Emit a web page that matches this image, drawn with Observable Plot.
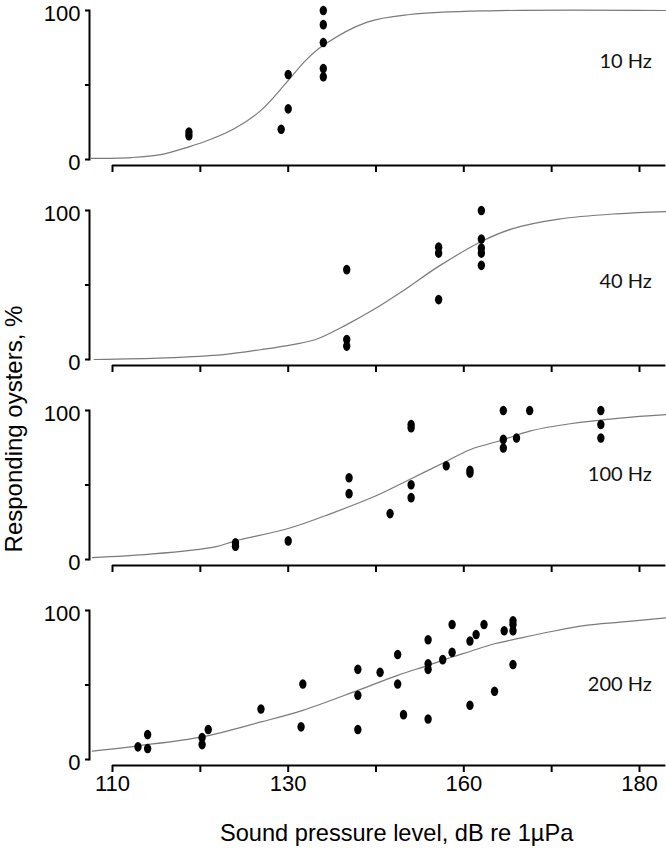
<!DOCTYPE html>
<html><head><meta charset="utf-8">
<script src="https://cdn.jsdelivr.net/npm/d3@7"></script>
<script src="https://cdn.jsdelivr.net/npm/@observablehq/plot@0.6"></script>
<style>
body{margin:0;background:#fff;}
#wrap{position:relative;width:666px;height:850px;overflow:hidden;font-family:"Liberation Sans",Arial,sans-serif;color:#000;}
.panel{position:absolute;left:0;}
#ytitle{position:absolute;left:-186px;top:417px;width:400px;height:24px;line-height:24px;text-align:center;font-size:24px;white-space:nowrap;transform:rotate(-90deg);transform-origin:200px 12px;}
#xtitle{position:absolute;left:220px;top:821px;font-size:23.6px;line-height:24px;white-space:nowrap;}
</style></head>
<body><div id="wrap">
<div id="ytitle">Responding oysters, %</div>
<div id="xtitle">Sound pressure level, dB re 1µPa</div>
</div>
<script>
// tick positions and labels (x axis, sound pressure level)
const tickValues = [110, 120, 130, 145, 160, 170, 180];
const tickLabels = ["110", "", "130", "", "160", "", "180"];
const yTicks = [0, 50, 100];
const yLabels = [0, 100];
const panelLabels = ["10 Hz", "40 Hz", "100 Hz", "200 Hz"];
const labelY = [66, 52, 57, 50];

// 10 Hz
const spl10  = [118.7, 118.7, 129.2, 130, 130, 136, 136, 136, 136, 136];
const resp10 = [18.5, 16, 20.3, 57, 34, 100, 90.5, 78.5, 61, 55.5];
const curveSpl10  = [107.5, 112.1, 115.5, 118.7, 121.2, 123.9, 126.9, 129.7, 133.0, 136.0, 143.5, 150.8, 163.0, 183];
const curveResp10 = [0.7, 1.3, 3.3, 8.5, 13.6, 20.8, 33, 50.9, 66.5, 76.6, 92.2, 97.3, 99.8, 100];

// 40 Hz
const spl40  = [140, 140, 140, 155.7, 155.7, 155.7, 162, 162, 162, 162, 162];
const resp40 = [60.3, 13.4, 9, 75.4, 71.4, 40.2, 100, 80.8, 74.8, 71.4, 63.2];
const curveSpl40  = [107.9, 116.0, 122.6, 127.0, 130.8, 134.7, 140.0, 144.6, 149.5, 155.7, 162.0, 165.5, 170.8, 177.4, 183];
const curveResp40 = [0, 1.1, 3.3, 6.7, 10, 13.4, 23.4, 33.5, 45.8, 62.5, 79.2, 87.7, 94.2, 97.8, 99.3];

// 100 Hz
const spl100  = [124, 124, 130, 140.4, 140.4, 147.4, 151, 151, 151, 151, 157, 160.7, 160.7, 164.5, 164.5, 164.5, 166, 167.5, 175.6, 175.6, 175.6];
const resp100 = [11.2, 8.9, 12.5, 54.9, 44.2, 30.8, 90.6, 88.4, 50.2, 41.5, 62.9, 59.8, 58, 100, 80.6, 74.8, 81.5, 100, 100, 90.6, 81.5];
const curveSpl100  = [107.7, 114.3, 121.7, 124.0, 130.0, 137.3, 145.2, 151.0, 157.0, 160.7, 164.5, 167.5, 172.1, 177.8, 183];
const curveResp100 = [1.3, 3.6, 8.5, 12.5, 20.8, 30.8, 43.1, 54.2, 65.8, 73.7, 80.4, 86.2, 91.1, 94.9, 97.2];

// 200 Hz
const spl200  = [112.9, 114, 114, 120.2, 120.2, 120.9, 126.9, 132.2, 132.5, 141.9, 141.9, 141.9, 145.7, 148.7, 148.7, 149.7, 153.9, 153.9, 153.9, 153.9, 156.4, 158, 158, 160.7, 160.7, 161.4, 162.3, 163.5, 164.6, 165.6, 165.6, 165.6, 165.6];
const resp200 = [8.5, 16.7, 7.4, 14.7, 10, 20.1, 33.9, 21.9, 50.7, 60.5, 43.1, 20.1, 58.5, 70.5, 50.7, 30.1, 80.4, 64.3, 60.5, 27.2, 67, 90.6, 71.9, 79.5, 36.4, 83.9, 90.6, 45.8, 86.4, 93.1, 90.6, 86.4, 63.8];
const curveSpl200  = [107.7, 112.9, 120.2, 126.9, 132.5, 141.9, 148.7, 153.9, 158.0, 160.7, 163.5, 165.6, 170.0, 173.9, 177.8, 183];
const curveResp200 = [5.6, 9.2, 15.2, 25.2, 33, 46.4, 56.5, 63.2, 68.8, 72.5, 77.7, 80.4, 85.9, 90, 92.2, 95];

const panels = [
  {spl: spl10, resp: resp10, cs: curveSpl10, cr: curveResp10},
  {spl: spl40, resp: resp40, cs: curveSpl40, cr: curveResp40},
  {spl: spl100, resp: resp100, cs: curveSpl100, cr: curveResp100},
  {spl: spl200, resp: resp200, cs: curveSpl200, cr: curveResp200}
];

const ellipse = {
  draw(ctx) {
    const rx = 3.7, ry = 4.8, k = 0.5523;
    ctx.moveTo(rx, 0);
    ctx.bezierCurveTo(rx, ry * k, rx * k, ry, 0, ry);
    ctx.bezierCurveTo(-rx * k, ry, -rx, ry * k, -rx, 0);
    ctx.bezierCurveTo(-rx, -ry * k, -rx * k, -ry, 0, -ry);
    ctx.bezierCurveTo(rx * k, -ry, rx, -ry * k, rx, 0);
    ctx.closePath();
  }
};

const wrap = document.getElementById("wrap");
panels.forEach((p, i) => {
  const pts = p.spl.map((s, j) => ({spl: s, resp: p.resp[j]}));
  const curve = p.cs.map((s, j) => ({spl: s, resp: p.cr[j]}));
  const last = i === panels.length - 1;
  const chart = Plot.plot({
    width: 666,
    height: 200,
    marginTop: 10,
    marginBottom: 41,
    marginLeft: 89,
    marginRight: 0,
    style: {fontFamily: "'Liberation Sans', Arial, sans-serif", background: "transparent", overflow: "visible"},
    x: {type: "linear", domain: [110, 130, 160, 180], range: [112, 287.7, 463.3, 639]},
    y: {domain: [0, 100]},
    marks: [
      Plot.frame({anchor: "left", stroke: "#000", strokeWidth: 2}),
      Plot.axisY({ticks: yTicks, tickSize: 4, strokeWidth: 2, tickFormat: () => "", label: null}),
      Plot.axisY({ticks: yLabels, tickSize: 0, tickPadding: 9, dy: 3, fontSize: 22, fill: "#000",
                  tickFormat: d => String(d), label: null}),
      Plot.ruleY([0], {x1: 110, x2: 183, dy: 6, stroke: "#000", strokeWidth: 2}),
      Plot.axisX({ticks: tickValues, tickSize: 7, tickPadding: 3, dy: 6, strokeWidth: 2, fontSize: 22, fill: "#000",
                  tickFormat: d => last ? tickLabels[tickValues.indexOf(d)] : "", label: null}),
      Plot.line(curve, {x: "spl", y: "resp", stroke: "#7a7a7a", strokeWidth: 1.2, curve: "catmull-rom"}),
      Plot.dot(pts, {x: "spl", y: "resp", symbol: ellipse, fill: "#000", stroke: "none"}),
      Plot.text([panelLabels[i]], {x: 181.4, y: labelY[i], text: d => d, textAnchor: "end", fontSize: 20,
                  fontFamily: "Lato, 'Open Sans', sans-serif", fill: "#111"})
    ]
  });
  const div = document.createElement("div");
  div.className = "panel";
  div.style.top = (i * 200) + "px";
  div.appendChild(chart);
  wrap.appendChild(div);
});
</script>
</body></html>
